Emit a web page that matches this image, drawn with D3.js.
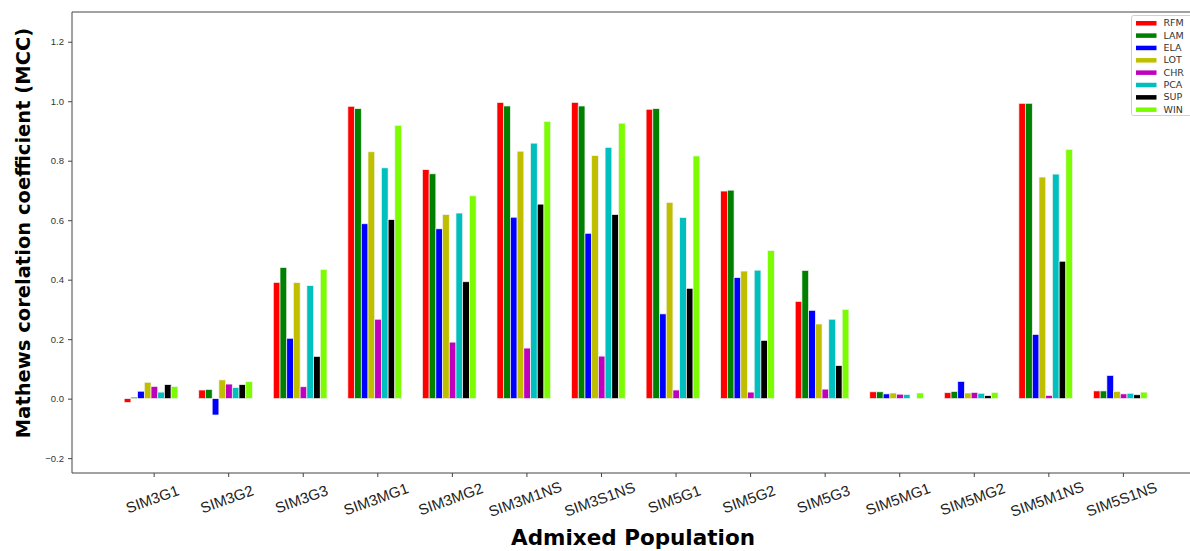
<!DOCTYPE html>
<html>
<head>
<meta charset="utf-8">
<script src="https://cdn.jsdelivr.net/npm/d3@7"></script>
<style>
  html, body { margin: 0; padding: 0; background: #fff; }
  svg { display: block; font-family: "DejaVu Sans", sans-serif; }
</style>
</head>
<body>
<svg id="chart" width="1190" height="551"></svg>
<script>
// Population scenarios on the x axis
const categories = ["SIM3G1", "SIM3G2", "SIM3G3", "SIM3MG1", "SIM3MG2", "SIM3M1NS", "SIM3S1NS",
  "SIM5G1", "SIM5G2", "SIM5G3", "SIM5MG1", "SIM5MG2", "SIM5M1NS", "SIM5S1NS"];

// Methods compared (one bar per method in each group)
const methods = ["RFM", "LAM", "ELA", "LOT", "CHR", "PCA", "SUP", "WIN"];
const colors = ["#ff0000", "#008000", "#0000ff", "#bfbf00", "#bf00bf", "#00bfbf", "#000000", "#7cfc00"];

// MCC per method, one value per population
const RFM = [-0.013, 0.029, 0.391, 0.983, 0.770, 0.996, 0.996, 0.973, 0.698, 0.327, 0.023, 0.020, 0.993, 0.026];
const LAM = [0.005, 0.031, 0.441, 0.975, 0.756, 0.984, 0.984, 0.975, 0.701, 0.431, 0.023, 0.024, 0.993, 0.026];
const ELA = [0.025, -0.055, 0.203, 0.588, 0.571, 0.610, 0.556, 0.285, 0.407, 0.297, 0.016, 0.058, 0.216, 0.078];
const LOT = [0.055, 0.063, 0.390, 0.830, 0.619, 0.832, 0.817, 0.660, 0.429, 0.251, 0.019, 0.019, 0.745, 0.024];
const CHR = [0.041, 0.049, 0.040, 0.267, 0.190, 0.170, 0.143, 0.029, 0.022, 0.032, 0.015, 0.021, 0.011, 0.016];
const PCA = [0.022, 0.037, 0.380, 0.776, 0.624, 0.859, 0.845, 0.609, 0.432, 0.267, 0.014, 0.018, 0.755, 0.018];
const SUP = [0.047, 0.047, 0.142, 0.602, 0.393, 0.654, 0.619, 0.371, 0.196, 0.111, 0.000, 0.010, 0.462, 0.013];
const WIN = [0.041, 0.057, 0.434, 0.919, 0.682, 0.932, 0.926, 0.816, 0.498, 0.300, 0.019, 0.021, 0.838, 0.022];
const series = [RFM, LAM, ELA, LOT, CHR, PCA, SUP, WIN];

const yTicks = [-0.2, 0.0, 0.2, 0.4, 0.6, 0.8, 1.0, 1.2];

const barWidth = 0.09;     // in group units
const tickOffset = 0.35;   // category tick sits inside the group

const svg = d3.select("#chart");
const plotLeft = 72, plotTop = 12, plotBottom = 473, plotRight = 1195;

const x = d3.scaleLinear().domain([-0.745, 14.25]).range([plotLeft, 1190]);
const y = d3.scaleLinear().domain([-0.25, 1.3]).range([plotBottom, plotTop]);

// bars
const bars = [];
series.forEach((vals, m) => {
  vals.forEach((v, c) => bars.push({ c, m, v }));
});
svg.append("g").selectAll("rect").data(bars).join("rect")
  .attr("x", d => x(d.c + d.m * barWidth) - (x(barWidth) - x(0)) / 2)
  .attr("width", x(barWidth) - x(0))
  .attr("y", d => y(Math.max(0, d.v)))
  .attr("height", d => Math.abs(y(d.v) - y(0)))
  .attr("fill", d => colors[d.m])
  .attr("stroke", "#f4f4f4")
  .attr("stroke-width", 0.7);

// y axis
const yAxis = svg.append("g").attr("transform", `translate(${plotLeft},0)`)
  .call(d3.axisLeft(y).tickValues(yTicks).tickFormat(d3.format(".1f")).tickSize(4).tickPadding(4));
yAxis.select(".domain").remove();
yAxis.selectAll("text").attr("font-size", 9.5).attr("fill", "#333")
  .text(d => d < 0 ? "\u22120.2" : d3.format(".1f")(d));
yAxis.selectAll("line").attr("stroke", "#444");

// x axis
const xAxis = svg.append("g").attr("transform", `translate(0,${plotBottom})`)
  .call(d3.axisBottom(x).tickValues(categories.map((_, i) => i + tickOffset))
    .tickFormat((d, i) => categories[i]).tickSize(4).tickPadding(0));
xAxis.select(".domain").remove();
xAxis.selectAll("line").attr("stroke", "#444");
xAxis.selectAll("text")
  .attr("font-size", 15)
  .attr("fill", "#222")
  .attr("text-anchor", "middle")
  .attr("dy", null)
  .attr("y", 0)
  .attr("transform", "translate(0,31) rotate(-20)");

// frame
svg.append("line").attr("x1", plotLeft).attr("x2", plotRight).attr("y1", plotTop).attr("y2", plotTop)
  .attr("stroke", "#444").attr("stroke-width", 1);
svg.append("line").attr("x1", plotLeft).attr("x2", plotRight).attr("y1", plotBottom).attr("y2", plotBottom)
  .attr("stroke", "#444").attr("stroke-width", 1);
svg.append("line").attr("x1", plotLeft).attr("x2", plotLeft).attr("y1", plotTop).attr("y2", plotBottom)
  .attr("stroke", "#444").attr("stroke-width", 1);

// axis titles
svg.append("text")
  .attr("transform", "translate(30,233) rotate(-90)")
  .attr("text-anchor", "middle")
  .attr("font-size", 19.5).attr("font-weight", "bold").attr("fill", "#000")
  .text("Mathews corelation coefficient (MCC)");
svg.append("text")
  .attr("x", 633).attr("y", 545)
  .attr("text-anchor", "middle")
  .attr("font-size", 21.5).attr("font-weight", "bold").attr("fill", "#000")
  .text("Admixed Population");

// legend
const lg = svg.append("g").attr("transform", "translate(1131.5,15.5)");
lg.append("rect").attr("width", 70).attr("height", 100).attr("rx", 2)
  .attr("fill", "#fff").attr("stroke", "#d0d0d0");
const items = lg.selectAll("g.item").data(methods).join("g")
  .attr("transform", (d, i) => `translate(0,${7.5 + i * 12.35})`);
items.append("rect").attr("x", 4.5).attr("y", -2).attr("width", 20.5).attr("height", 4.5)
  .attr("fill", (d, i) => colors[i]);
items.append("text").attr("x", 32).attr("y", 0).attr("dy", "0.35em")
  .attr("font-size", 9.5).attr("fill", "#333").text(d => d);
</script>
</body>
</html>
